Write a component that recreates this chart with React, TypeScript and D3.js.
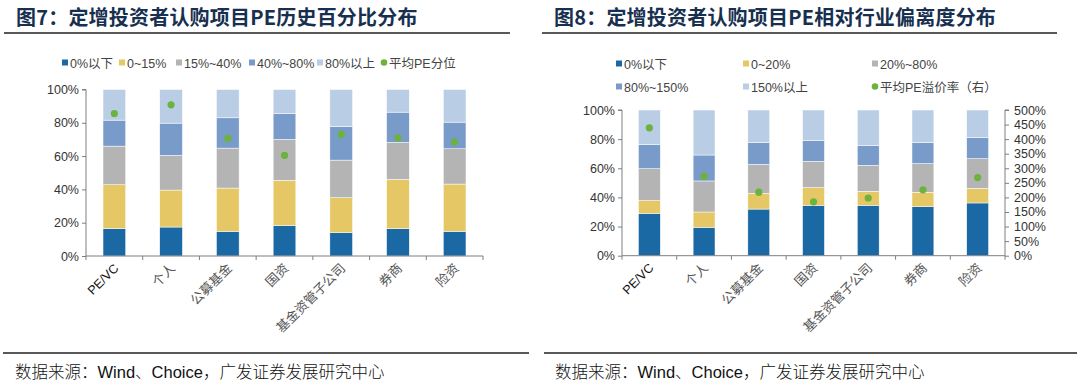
import React, { useEffect, useRef } from 'react';
import * as d3 from 'd3';

// investor types (x axis), same for both charts
const categories = ['PE/VC', '个人', '公募基金', '国资', '基金资管子公司', '券商', '险资'];

// fig 7: share of projects by historical PE percentile (%)
const pctSeriesNames = ['0%以下', '0~15%', '15%~40%', '40%~80%', '80%以上'];
const pctBelow0 = [16.4, 17.4, 14.8, 18.2, 14.0, 16.4, 14.8];
const pct0to15 = [26.4, 22.2, 26.0, 27.2, 21.0, 29.6, 28.4];
const pct15to40 = [23.2, 20.8, 24.0, 24.6, 22.6, 22.2, 21.2];
const pct40to80 = [15.6, 19.4, 18.2, 15.6, 20.2, 18.2, 16.0];
const pctAbove80 = [18.4, 20.2, 17.0, 14.4, 22.2, 13.6, 19.6];
const pctAvgName = '平均PE分位';
const pctAvg = [85.6, 90.8, 70.6, 60.4, 73.0, 71.0, 68.4];

// fig 8: share of projects by PE premium over industry (%)
const devSeriesNames = ['0%以下', '0~20%', '20%~80%', '80%~150%', '150%以上'];
const devBelow0 = [29.1, 19.5, 32.0, 34.6, 34.6, 33.6, 36.2];
const dev0to20 = [8.7, 10.5, 10.8, 12.1, 9.6, 9.9, 10.0];
const dev20to80 = [21.9, 21.3, 19.9, 18.1, 17.8, 19.7, 20.4];
const dev80to150 = [16.7, 17.8, 14.9, 14.4, 13.7, 14.4, 14.4];
const devAbove150 = [23.6, 30.9, 22.4, 20.8, 24.3, 22.4, 19.0];
const devAvgName = '平均PE溢价率（右）';
const devAvg = [439, 273, 218, 185, 198, 226, 268]; // right axis

const leftTicks = [0, 20, 40, 60, 80, 100];
const rightTicks = [0, 50, 100, 150, 200, 250, 300, 350, 400, 450, 500];

const colors = ['#1a69a5', '#e5c865', '#b4b4b4', '#789bc9', '#b9cde5'];
const dotColor = '#6cb33e';
const FONT = '"Liberation Sans", Arial, "Noto Sans CJK SC", sans-serif';
const CJK = '"Noto Sans CJK SC", "Liberation Sans", sans-serif';

type Panel = {
  title: string;
  titleX: number;
  lineX: [number, number];
  footX: [number, number];
  footTextX: number;
  x: [number, number];
  y: [number, number];
  names: string[];
  series: number[][];
  avgName: string;
  avg: number[];
  avgMax: number;
  legend: { x: number; y: number }[];
  rightAxis: boolean;
};

function drawPanel(svg: d3.Selection<SVGSVGElement, unknown, null, undefined>, p: Panel) {
  const g = svg.append('g');

  // title + rules
  g.append('text')
    .attr('x', p.titleX).attr('y', 25)
    .style('font-family', CJK).style('font-size', '20px').style('font-weight', 700)
    .style('letter-spacing', '0.2px')
    .attr('fill', '#17304f')
    .text(p.title);
  g.append('line')
    .attr('x1', p.lineX[0]).attr('x2', p.lineX[1]).attr('y1', 33).attr('y2', 33)
    .attr('stroke', '#222').attr('stroke-width', 1.5);
  g.append('line')
    .attr('x1', p.footX[0]).attr('x2', p.footX[1]).attr('y1', 353).attr('y2', 353)
    .attr('stroke', '#222').attr('stroke-width', 1.5);
  g.append('text')
    .attr('x', p.footTextX).attr('y', 378)
    .style('font-family', FONT).style('font-size', '16.5px').style('font-weight', 300)
    .attr('fill', '#111')
    .text('数据来源：Wind、Choice，广发证券发展研究中心');

  const x = d3.scaleBand<string>().domain(categories).range(p.x).paddingInner(0.6).paddingOuter(0.3);
  const y = d3.scaleLinear().domain([0, 100]).range(p.y);
  const y2 = d3.scaleLinear().domain([0, p.avgMax]).range(p.y);

  const rows = categories.map((c, i) => {
    const r: any = { cat: c };
    p.names.forEach((n, k) => (r[n] = p.series[k][i]));
    return r;
  });
  const stacked = d3.stack<any>().keys(p.names)(rows);

  g.selectAll('g.layer')
    .data(stacked)
    .enter()
    .append('g')
    .attr('fill', (_d, i) => colors[i])
    .selectAll('rect')
    .data(d => d)
    .enter()
    .append('rect')
    .attr('x', d => x(d.data.cat) as number)
    .attr('width', x.bandwidth())
    .attr('y', d => y(d[1]))
    .attr('height', d => y(d[0]) - y(d[1]))
    .attr('stroke', '#fff')
    .attr('stroke-width', 0.5);

  g.selectAll('circle.avg')
    .data(p.avg)
    .enter()
    .append('circle')
    .attr('cx', (_d, i) => (x(categories[i]) as number) + x.bandwidth() / 2)
    .attr('cy', d => (p.rightAxis ? y2(d) : y(d)))
    .attr('r', 3.6)
    .attr('fill', dotColor);

  // axes
  const axisColor = '#7f7f7f';
  const yAxis = g.append('g')
    .attr('transform', `translate(${p.x[0]},0)`)
    .call(d3.axisLeft(y).tickValues(leftTicks).tickSize(4).tickFormat(d => `${d}%`));
  yAxis.select('.domain').attr('d', `M-4,${p.y[1]}H0V${p.y[0]}`);

  if (p.rightAxis) {
    const ra = g.append('g')
      .attr('transform', `translate(${p.x[1]},0)`)
      .call(d3.axisRight(y2).tickValues(rightTicks).tickSize(4).tickFormat(d => `${d}%`));
    ra.select('.domain').attr('d', `M4,${p.y[1]}H0V${p.y[0]}`);
    ra.selectAll('text').attr('x', 9);
  }

  const bandEdges = categories.map(c => (x(c) as number) - (x.step() * x.paddingInner()) / 2);
  const xa = g.append('g').attr('transform', `translate(0,${p.y[0]})`);
  xa.append('line').attr('x1', p.x[0]).attr('x2', p.x[1]).attr('stroke', axisColor);
  xa.selectAll('line.tk')
    .data([...bandEdges, p.x[1]])
    .enter()
    .append('line')
    .attr('x1', d => d).attr('x2', d => d).attr('y1', 0).attr('y2', 4)
    .attr('stroke', axisColor);
  xa.selectAll('text')
    .data(categories)
    .enter()
    .append('text')
    .attr('transform', d => `translate(${(x(d) as number) + x.bandwidth() / 2 + 5},${13}) rotate(-45)`)
    .attr('text-anchor', 'end')
    .style('font-family', FONT)
    .style('font-size', (_d, i) => (i === 0 ? '12.5px' : '13px'))
    .attr('fill', (_d, i) => (i === 0 ? '#111' : '#555'))
    .text(d => d);

  g.selectAll('.tick line').attr('stroke', axisColor);
  g.selectAll('.domain').attr('stroke', axisColor);
  g.selectAll('.tick text')
    .style('font-family', FONT).style('font-size', '12.5px').attr('fill', '#333');

  // legend
  const items = [...p.names, p.avgName];
  items.forEach((name, i) => {
    const pos = p.legend[i];
    if (i < p.names.length) {
      g.append('rect')
        .attr('x', pos.x).attr('y', pos.y - 3.5).attr('width', 6).attr('height', 6)
        .attr('fill', colors[i]);
    } else {
      g.append('circle').attr('cx', pos.x + 3).attr('cy', pos.y - 0.5).attr('r', 3.3).attr('fill', dotColor);
    }
    g.append('text')
      .attr('x', pos.x + 8).attr('y', pos.y + 4.5)
      .style('font-family', FONT).style('font-size', '12.5px')
      .attr('fill', '#444')
      .text(name);
  });
}

const App: React.FC = () => {
  const ref = useRef<SVGSVGElement>(null);

  useEffect(() => {
    const svg = d3.select(ref.current as SVGSVGElement);
    svg.selectAll('*').remove();

    drawPanel(svg, {
      title: '图7：定增投资者认购项目PE历史百分比分布',
      titleX: 16,
      lineX: [4, 510],
      footX: [3, 529],
      footTextX: 15,
      x: [86, 483],
      y: [256, 89.5],
      names: pctSeriesNames,
      series: [pctBelow0, pct0to15, pct15to40, pct40to80, pctAbove80],
      avgName: pctAvgName,
      avg: pctAvg,
      avgMax: 100,
      legend: [
        { x: 62, y: 63 }, { x: 119, y: 63 }, { x: 176, y: 63 },
        { x: 249, y: 63 }, { x: 317, y: 63 }, { x: 381, y: 63 },
      ],
      rightAxis: false,
    });

    drawPanel(svg, {
      title: '图8：定增投资者认购项目PE相对行业偏离度分布',
      titleX: 554,
      lineX: [542, 1057],
      footX: [544, 1077],
      footTextX: 555,
      x: [622, 1005],
      y: [255.7, 110],
      names: devSeriesNames,
      series: [devBelow0, dev0to20, dev20to80, dev80to150, devAbove150],
      avgName: devAvgName,
      avg: devAvg,
      avgMax: 500,
      legend: [
        { x: 616, y: 64 }, { x: 743, y: 64 }, { x: 872, y: 64 },
        { x: 616, y: 87 }, { x: 743, y: 87 }, { x: 872, y: 87 },
      ],
      rightAxis: true,
    });
  }, []);

  return (
    <svg
      ref={ref}
      width={1080}
      height={386}
      style={{ position: 'absolute', left: 0, top: 0, background: '#fff' }}
    />
  );
};

export default App;
